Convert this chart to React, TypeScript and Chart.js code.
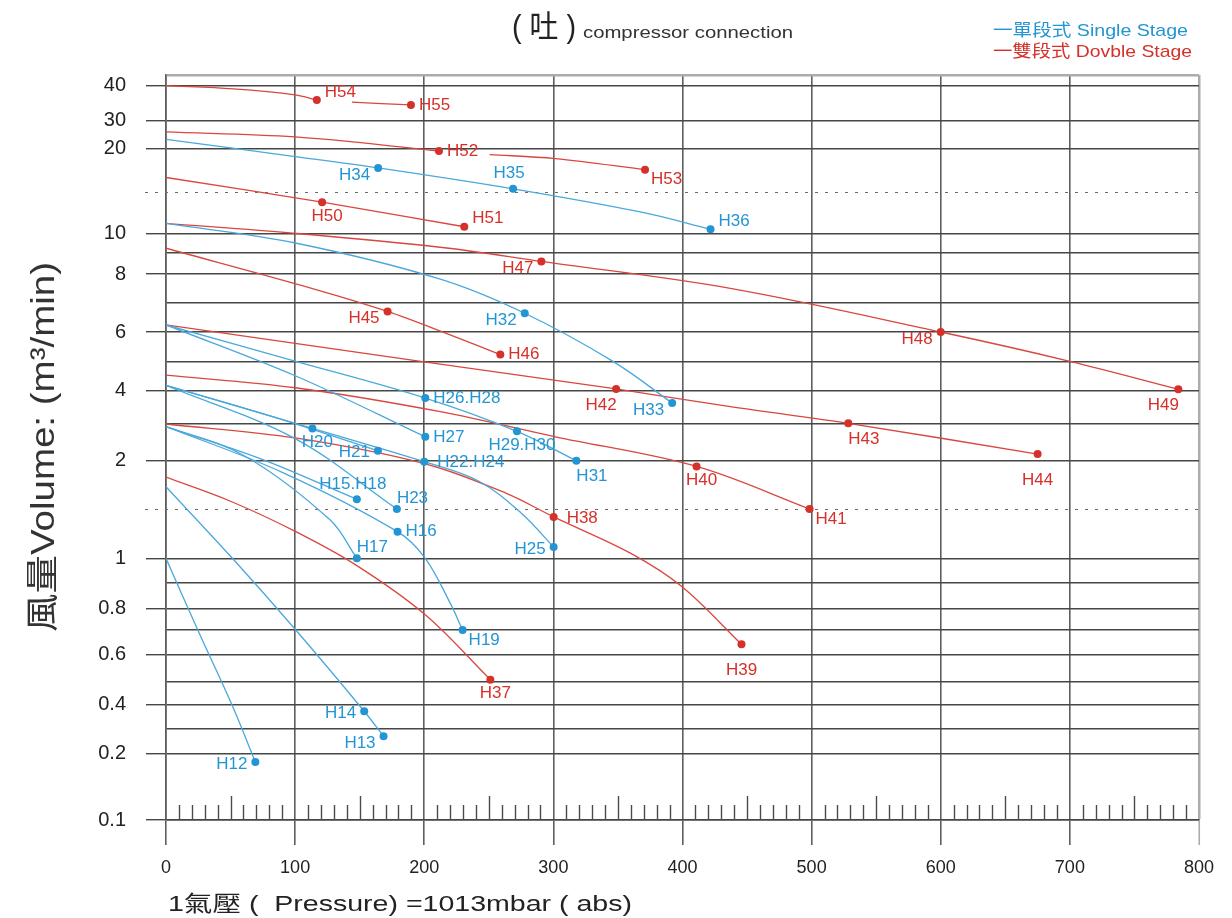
import React, { useEffect, useRef } from 'react';
import { Chart, LinearScale, registerables } from 'chart.js';

Chart.register(...registerables);

// ---------------- DATA ----------------
// x: pressure (mbar), y: volume (m3/min)

const xMin = 0;
const xMax = 800;
const xStep = 100;

const yLabeledTicks = [0.1, 0.2, 0.4, 0.6, 0.8, 1, 2, 4, 6, 8, 10, 20, 30, 40];
const yDottedLines = [1.5, 15];

// Single stage (blue) curves, [pressure, volume]
const blueCurveH34H36: [number, number][] = [[0, 23.3], [100, 19.1], [164.3, 17.8], [268.8, 15.4], [367.4, 12.6], [421.7, 10.5]];
const blueCurveH32H33: [number, number][] = [[0, 11.2], [100, 9.5], [212.4, 7.82], [277.8, 6.64], [346.8, 4.98], [392, 3.63]];
const blueCurveH26H31: [number, number][] = [[0, 6.24], [100.5, 5.0], [200.8, 3.78], [271.8, 2.8], [317.8, 2.0]];
const blueCurveH27: [number, number][] = [[0, 6.24], [100.5, 4.5], [200.8, 2.65]];
const blueCurveH20H25: [number, number][] = [[0, 4.18], [113.4, 2.88], [200, 1.99], [242, 1.79], [275, 1.46], [300.2, 1.115]];
const blueCurveH21: [number, number][] = [[0, 4.18], [80, 3.25], [164.1, 2.27]];
const blueCurveH23: [number, number][] = [[0, 4.18], [100, 2.6], [178.8, 1.5]];
const blueCurveH15: [number, number][] = [[0, 2.93], [75, 2.03], [147.8, 1.6]];
const blueCurveH16H19: [number, number][] = [[0, 2.93], [90, 1.88], [179.3, 1.27], [200.8, 1.0], [220, 0.821], [229.7, 0.7]];
const blueCurveH17: [number, number][] = [[0, 2.93], [60, 2.15], [127, 1.39], [147.8, 1.0]];
const blueCurveH12: [number, number][] = [[0, 1.0], [24.6, 0.7], [50.9, 0.4], [69.2, 0.187]];
const blueCurveH13H14: [number, number][] = [[0, 1.73], [51.4, 1.0], [100.5, 0.7], [153.5, 0.372], [168.5, 0.27]];

// Double stage (red) curves
const redCurveH54: [number, number][] = [[0, 40], [52, 39.1], [100, 37.4], [116.8, 35.9]];
const redCurveH55: [number, number][] = [[144, 35.3], [189.7, 34.5]];
const redCurveH52: [number, number][] = [[0, 26], [100, 24.2], [211.4, 19.75]];
const redCurveH53: [number, number][] = [[250.6, 19.33], [301.5, 18.87], [371, 17.6]];
const redCurveH50H51: [number, number][] = [[0, 16.7], [120.9, 13.8], [231, 10.8]];
const redCurveH47H49: [number, number][] = [[0, 11.2], [100, 10], [212.4, 9.28], [290.7, 8.59], [437, 7.5], [600, 6.0], [700, 5.0], [784, 4.05]];
const redCurveH45H46: [number, number][] = [[0, 9.23], [116.8, 7.45], [171.6, 6.7], [220, 5.9], [258.9, 5.23]];
const redCurveH42H44: [number, number][] = [[0, 6.24], [100, 5.61], [200, 4.98], [348.6, 4.06], [437, 3.52], [528.4, 3.02], [675, 2.18]];
const redCurveH40H41: [number, number][] = [[0, 4.53], [100, 4.1], [212.4, 3.37], [301.6, 2.65], [410.9, 1.94], [498.4, 1.5]];
const redCurveH38H39: [number, number][] = [[0, 3.0], [100, 2.62], [200, 1.97], [264, 1.66], [300.2, 1.42], [360, 1.05], [399.7, 0.884], [445.7, 0.641]];
const redCurveH37: [number, number][] = [[0, 1.83], [50, 1.58], [100.5, 1.27], [147.8, 0.97], [200.8, 0.77], [251.2, 0.506]];

// Model points (dots)
const blueDotNames = ['H12', 'H13', 'H14', 'H15.H18', 'H16', 'H17', 'H19', 'H20', 'H21', 'H22.H24', 'H23', 'H25', 'H26.H28', 'H27', 'H29.H30', 'H31', 'H32', 'H33', 'H34', 'H35', 'H36'];
const blueDotPressure = [69.2, 168.5, 153.5, 147.8, 179.3, 147.8, 229.7, 113.4, 164.1, 200, 178.8, 300.2, 200.8, 200.8, 271.8, 317.8, 277.8, 392, 164.3, 268.8, 421.7];
const blueDotVolume = [0.187, 0.27, 0.372, 1.6, 1.27, 1.0, 0.7, 2.88, 2.27, 1.99, 1.5, 1.115, 3.78, 2.65, 2.8, 2.0, 6.64, 3.63, 17.8, 15.4, 10.5];
const blueDotPlace = ['l', 'lb', 'l', 'a', 'r', 'ar', 'rb', 'b', 'l', 'rr', 'ar', 'l', 'r', 'r', 'b', 'br', 'lb', 'lb', 'lb', 'a', 'ru'];

const redDotNames = ['H37', 'H38', 'H39', 'H40', 'H41', 'H42', 'H43', 'H44', 'H45', 'H46', 'H47', 'H48', 'H49', 'H50', 'H51', 'H52', 'H53', 'H54', 'H55'];
const redDotPressure = [251.2, 300.2, 445.7, 410.9, 498.4, 348.6, 528.4, 675, 171.6, 258.9, 290.7, 600, 784, 120.9, 231, 211.4, 371, 116.8, 189.7];
const redDotVolume = [0.506, 1.42, 0.641, 1.94, 1.5, 4.06, 3.02, 2.18, 6.7, 5.23, 8.59, 6.0, 4.05, 13.8, 10.8, 19.75, 17.6, 35.9, 34.5];
const redDotPlace = ['b', 'rr', 'bb', 'b', 'rb', 'bl', 'br', 'bb', 'lb', 'r', 'lb', 'lb', 'bl', 'b', 'ru', 'r', 'rb', 'ru', 'r'];

// ---------------- STYLE ----------------
const FONT = '"Liberation Sans", Arial, "Noto Sans CJK TC", sans-serif';
const BLUE_DOT = '#2495d3';
const BLUE_LINE = '#4aa8dc';
const RED_DOT = '#d6302a';
const RED_LINE = '#d9473f';
const GRID_H = '#464646';
const GRID_V = '#5e5e5e';
const FRAME = '#acacac';

// label placement: [dx, dy, align]
const placements: Record<string, [number, number, CanvasTextAlign]> = {
  r: [8, 0, 'left'],
  rr: [13, 1, 'left'],
  ru: [8, -8, 'left'],
  rb: [6, 10, 'left'],
  l: [-8, 2, 'right'],
  lb: [-8, 7, 'right'],
  a: [-4, -15, 'center'],
  ar: [0, -11, 'left'],
  b: [5, 14, 'center'],
  br: [0, 16, 'left'],
  bl: [-15, 16, 'center'],
  bb: [0, 26, 'center'],
};

// ---------------- CUSTOM Y SCALE (hand-drawn gauge) ----------------
// Gauge: position of each reference value, measured upward on a 745-unit ruler
const gaugeValues = [0.1, 0.2, 0.3, 0.4, 0.5, 0.6, 0.7, 0.8, 0.9, 1, 1.5, 2, 3, 4, 5, 6, 7, 8, 9, 10, 15, 20, 30, 40, 45];
const gaugeHeights = [0, 66.7, 91, 115.7, 138.7, 165.7, 190, 211.7, 237.3, 261.7, 311, 359.3, 396, 429.3, 458.7, 488, 517.3, 546, 567.3, 586.7, 627.7, 671.3, 699.3, 734.3, 745];
const gaugeFull = 745;
const yMin = 0.1;
const yMax = 45;

function valueToGauge(v: number): number {
  if (v <= gaugeValues[0]) return gaugeHeights[0];
  for (let i = 1; i < gaugeValues.length; i++) {
    if (v <= gaugeValues[i]) {
      const t = (v - gaugeValues[i - 1]) / (gaugeValues[i] - gaugeValues[i - 1]);
      return gaugeHeights[i - 1] + t * (gaugeHeights[i] - gaugeHeights[i - 1]);
    }
  }
  return gaugeHeights[gaugeHeights.length - 1];
}
function gaugeToValue(g: number): number {
  if (g <= gaugeHeights[0]) return gaugeValues[0];
  for (let i = 1; i < gaugeHeights.length; i++) {
    if (g <= gaugeHeights[i]) {
      const t = (g - gaugeHeights[i - 1]) / (gaugeHeights[i] - gaugeHeights[i - 1]);
      return gaugeValues[i - 1] + t * (gaugeValues[i] - gaugeValues[i - 1]);
    }
  }
  return gaugeValues[gaugeValues.length - 1];
}

class GaugeScale extends (LinearScale as any) {
  static id = 'gauge';
  static defaults = {};
  buildTicks() {
    return gaugeValues.map((v) => ({ value: v }));
  }
  getPixelForValue(value: number) {
    return (this as any).getPixelForDecimal(valueToGauge(value) / gaugeFull);
  }
  getValueForPixel(pixel: number) {
    return gaugeToValue((this as any).getDecimalForPixel(pixel) * gaugeFull);
  }
}
Chart.register(GaugeScale as any);

// ---------------- HELPERS ----------------
function drawFitted(ctx: CanvasRenderingContext2D, text: string, x: number, y: number, font: string, color: string, width: number, rotate = 0) {
  ctx.save();
  ctx.font = font;
  ctx.fillStyle = color;
  ctx.textBaseline = 'middle';
  ctx.textAlign = 'left';
  const w = ctx.measureText(text).width;
  const sx = width / w;
  ctx.translate(x, y);
  if (rotate) ctx.rotate(rotate);
  ctx.scale(sx, 1);
  ctx.fillText(text, rotate ? -w / 2 : 0, 0);
  ctx.restore();
}

const toPoints = (pairs: [number, number][]) => pairs.map(([x, y]) => ({ x, y }));

function curve(pairs: [number, number][], color: string) {
  return {
    type: 'scatter' as const,
    data: toPoints(pairs),
    showLine: true,
    borderColor: color,
    backgroundColor: color,
    borderWidth: 1.3,
    pointRadius: 0,
    pointHoverRadius: 0,
    tension: 0.35,
    fill: false,
    order: 2,
  };
}

function dots(names: string[], px: number[], vol: number[], place: string[], color: string) {
  return {
    type: 'scatter' as const,
    data: px.map((x, i) => ({ x, y: vol[i] })),
    showLine: false,
    pointRadius: 4,
    pointBorderWidth: 0,
    pointBackgroundColor: color,
    backgroundColor: color,
    borderColor: color,
    order: 0,
    dotNames: names,
    dotPlace: place,
    dotColor: color,
  } as any;
}

const decorPlugin = {
  id: 'decor',
  beforeDatasetsDraw(chart: any) {
    const ctx: CanvasRenderingContext2D = chart.ctx;
    const { left, right, bottom } = chart.chartArea;
    const xs = chart.scales.x;
    const ys = chart.scales.y;
    ctx.save();
    // dotted reference lines
    ctx.strokeStyle = '#6a6a6a';
    ctx.lineWidth = 1.2;
    ctx.setLineDash([3, 7]);
    yDottedLines.forEach((v) => {
      const py = Math.round(ys.getPixelForValue(v)) + 0.5;
      ctx.beginPath();
      ctx.moveTo(left - 21, py);
      ctx.lineTo(right, py);
      ctx.stroke();
    });
    ctx.setLineDash([]);
    // ruler ticks along the bottom
    ctx.strokeStyle = '#4a4a4a';
    ctx.lineWidth = 1.4;
    for (let v = 10; v < xMax; v += 10) {
      if (v % 100 === 0) continue;
      const len = v % 50 === 0 ? 24 : 15;
      const px = Math.round(xs.getPixelForValue(v)) + 0.5;
      ctx.beginPath();
      ctx.moveTo(px, bottom);
      ctx.lineTo(px, bottom - len);
      ctx.stroke();
    }
    ctx.restore();
  },
  afterDatasetsDraw(chart: any) {
    const ctx: CanvasRenderingContext2D = chart.ctx;
    ctx.save();
    ctx.font = `17px ${FONT}`;
    ctx.textBaseline = 'middle';
    chart.data.datasets.forEach((ds: any, di: number) => {
      if (!ds.dotNames) return;
      const meta = chart.getDatasetMeta(di);
      ctx.fillStyle = ds.dotColor;
      meta.data.forEach((pt: any, i: number) => {
        const [dx, dy, align] = placements[ds.dotPlace[i]] || placements.r;
        ctx.textAlign = align;
        ctx.fillText(ds.dotNames[i], pt.x + dx, pt.y + dy);
      });
    });
    ctx.restore();
  },
  afterDraw(chart: any) {
    const ctx: CanvasRenderingContext2D = chart.ctx;
    drawFitted(ctx, '( 吐 )', 512, 28, `31px ${FONT}`, '#222', 64);
    drawFitted(ctx, 'compressor connection', 583, 33, `17px ${FONT}`, '#333', 210);
    drawFitted(ctx, '一單段式 Single Stage', 993, 31, `17px ${FONT}`, BLUE_DOT, 195);
    drawFitted(ctx, '一雙段式 Dovble Stage', 993, 52, `17px ${FONT}`, RED_DOT, 199);
    drawFitted(ctx, '1氣壓 (  Pressure) =1013mbar ( abs)', 168, 905, `22px ${FONT}`, '#222', 464);
    drawFitted(ctx, '風量Volume: (m³/min)', 45, 447, `33px ${FONT}`, '#333', 370, -Math.PI / 2);
  },
};

export default function App() {
  const ref = useRef<HTMLCanvasElement>(null);
  useEffect(() => {
    const canvas = ref.current;
    if (!canvas) return;
    Chart.defaults.font.family = FONT;
    const datasets: any[] = [
      dots(blueDotNames, blueDotPressure, blueDotVolume, blueDotPlace, BLUE_DOT),
      dots(redDotNames, redDotPressure, redDotVolume, redDotPlace, RED_DOT),
      curve(blueCurveH34H36, BLUE_LINE),
      curve(blueCurveH32H33, BLUE_LINE),
      curve(blueCurveH26H31, BLUE_LINE),
      curve(blueCurveH27, BLUE_LINE),
      curve(blueCurveH20H25, BLUE_LINE),
      curve(blueCurveH21, BLUE_LINE),
      curve(blueCurveH23, BLUE_LINE),
      curve(blueCurveH15, BLUE_LINE),
      curve(blueCurveH16H19, BLUE_LINE),
      curve(blueCurveH17, BLUE_LINE),
      curve(blueCurveH12, BLUE_LINE),
      curve(blueCurveH13H14, BLUE_LINE),
      curve(redCurveH54, RED_LINE),
      curve(redCurveH55, RED_LINE),
      curve(redCurveH52, RED_LINE),
      curve(redCurveH53, RED_LINE),
      curve(redCurveH50H51, RED_LINE),
      curve(redCurveH47H49, RED_LINE),
      curve(redCurveH45H46, RED_LINE),
      curve(redCurveH42H44, RED_LINE),
      curve(redCurveH40H41, RED_LINE),
      curve(redCurveH38H39, RED_LINE),
      curve(redCurveH37, RED_LINE),
    ];
    const chart = new Chart(canvas, {
      type: 'scatter',
      data: { datasets },
      options: {
        responsive: false,
        devicePixelRatio: 1,
        animation: false,
        events: [],
        layout: { padding: { top: 75, right: 33, bottom: 0, left: 0 } },
        plugins: { legend: { display: false }, tooltip: { enabled: false }, title: { display: false } },
        scales: {
          x: {
            type: 'linear',
            min: xMin,
            max: xMax,
            afterFit: (s: any) => { s.height = 98; },
            ticks: { stepSize: xStep, autoSkip: false, maxRotation: 0, padding: 12, color: '#222', font: { size: 18, family: FONT } },
            grid: {
              color: (c: any) => (c.tick && c.tick.value === xMax ? FRAME : GRID_V),
              lineWidth: (c: any) => (c.tick && c.tick.value === xMax ? 2.5 : 1.6),
              tickColor: (c: any) => (c.tick && c.tick.value === xMax ? FRAME : GRID_V),
              tickWidth: 1.6,
              tickLength: 25,
            },
            border: { display: true, color: GRID_H, width: 1.4 },
          },
          y: {
            type: 'gauge' as any,
            min: yMin,
            max: yMax,
            afterFit: (s: any) => { s.width = 166; },
            ticks: {
              autoSkip: false,
              padding: 20,
              color: '#222',
              font: { size: 20, family: FONT },
              callback: (v: any) => (yLabeledTicks.includes(Number(v)) ? String(v) : ''),
            },
            grid: {
              color: (c: any) => {
                const v = c.tick ? c.tick.value : 0;
                if (v === yMax) return FRAME;
                if (yDottedLines.includes(v)) return 'rgba(0,0,0,0)';
                return GRID_H;
              },
              lineWidth: (c: any) => (c.tick && c.tick.value === yMax ? 2.5 : 1.4),
              tickColor: (c: any) => (c.tick && yLabeledTicks.includes(c.tick.value) ? GRID_H : 'rgba(0,0,0,0)'),
              tickWidth: 1.4,
              tickLength: 20,
            },
            border: { display: true, color: GRID_V, width: 1.6 },
          },
        },
      } as any,
      plugins: [decorPlugin],
    });
    return () => chart.destroy();
  }, []);
  return (
    <canvas
      ref={ref}
      width={1232}
      height={918}
      style={{ position: 'absolute', left: 0, top: 0, width: 1232, height: 918, background: '#ffffff' }}
    />
  );
}
